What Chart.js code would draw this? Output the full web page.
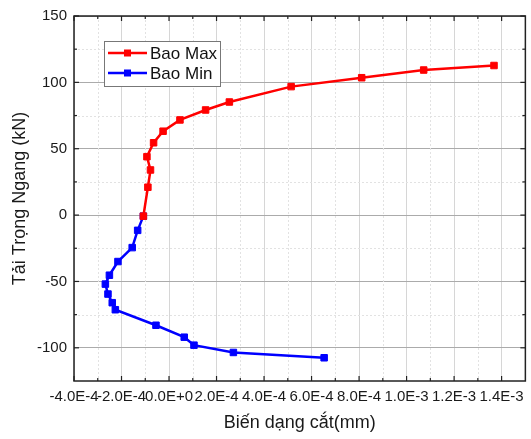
<!DOCTYPE html>
<html>
<head>
<meta charset="utf-8">
<script src="https://cdn.jsdelivr.net/npm/chart.js@4.4.1/dist/chart.umd.min.js"></script>
<style>
  html, body { margin: 0; padding: 0; background: #fff; }
  #wrap { width: 531px; height: 439px; }
</style>
</head>
<body>
<div id="wrap"><canvas id="chart" width="531" height="439"></canvas></div>
<script>
// ===== 数据=====
const seriesLabels = ['Bao Max', 'Bao Min'];
const seriesColors = ['#ff0000', '#0000ff'];

const maxX = [-1.08e-4, -8.9e-5, -7.8e-5, -9.3e-5, -6.5e-5, -2.5e-5, 4.6e-5, 1.54e-4, 2.54e-4, 5.14e-4, 8.11e-4, 1.072e-3, 1.368e-3];
const maxY = [-0.8, 21, 34, 44, 54.5, 63.2, 71.7, 79.2, 85.2, 96.8, 103.5, 109.3, 112.7];

const minX = [-1.08e-4, -1.32e-4, -1.55e-4, -2.15e-4, -2.51e-4, -2.68e-4, -2.57e-4, -2.39e-4, -2.26e-4, -5.5e-5, 6.4e-5, 1.05e-4, 2.71e-4, 6.53e-4];
const minY = [-0.8, -11.5, -24.5, -35, -45.3, -52, -59.5, -66, -71.3, -83, -92, -98, -103.5, -107.5];

const xTicks = [-4e-4, -2e-4, 0, 2e-4, 4e-4, 6e-4, 8e-4, 1e-3, 1.2e-3, 1.4e-3];
const xMinorTicks = [-3e-4, -1e-4, 1e-4, 3e-4, 5e-4, 7e-4, 9e-4, 1.1e-3, 1.3e-3];
const yTicks = [-100, -50, 0, 50, 100, 150];
const yMinorTicks = [-75, -25, 25, 75, 125];

const xRange = [-4e-4, 1.5e-3];
const yRange = [-125, 150];

const FONT = '"Liberation Sans", Arial, sans-serif';

const toPoints = (xs, ys) => xs.map((x, i) => ({ x, y: ys[i] }));

// 边框、内向刻度、次网格线与图内图例
const framePlugin = {
    id: 'frame',
    beforeDatasetsDraw(chart) {
        const { ctx, chartArea: a, scales } = chart;
        ctx.save();
        ctx.strokeStyle = '#e2e2e2';
        ctx.lineWidth = 1;
        ctx.setLineDash([2, 2]);
        xMinorTicks.forEach(v => {
            const px = Math.round(scales.x.getPixelForValue(v)) + 0.5;
            ctx.beginPath(); ctx.moveTo(px, a.top); ctx.lineTo(px, a.bottom); ctx.stroke();
        });
        yMinorTicks.forEach(v => {
            const py = Math.round(scales.y.getPixelForValue(v)) + 0.5;
            ctx.beginPath(); ctx.moveTo(a.left, py); ctx.lineTo(a.right, py); ctx.stroke();
        });
        ctx.restore();
    },
    afterDatasetsDraw(chart) {
        const { ctx, chartArea: a, scales } = chart;
        ctx.save();
        ctx.strokeStyle = '#222';
        ctx.lineWidth = 1.5;
        ctx.strokeRect(a.left, a.top, a.right - a.left, a.bottom - a.top);

        const tick = (x1, y1, x2, y2) => { ctx.beginPath(); ctx.moveTo(x1, y1); ctx.lineTo(x2, y2); ctx.stroke(); };
        ctx.lineWidth = 1.2;
        [[xTicks, 5], [xMinorTicks, 3]].forEach(([vals, len]) => vals.forEach(v => {
            const px = scales.x.getPixelForValue(v);
            tick(px, a.bottom, px, a.bottom - len);
            tick(px, a.top, px, a.top + len);
        }));
        [[yTicks, 5], [yMinorTicks, 3]].forEach(([vals, len]) => vals.forEach(v => {
            const py = scales.y.getPixelForValue(v);
            tick(a.left, py, a.left + len, py);
            tick(a.right, py, a.right - len, py);
        }));

        // 图例
        const lx = 104, ly = 41, lw = 116, lh = 45;
        ctx.fillStyle = '#fff';
        ctx.fillRect(lx, ly, lw, lh);
        ctx.strokeStyle = '#777';
        ctx.lineWidth = 1;
        ctx.strokeRect(lx + 0.5, ly + 0.5, lw, lh);
        ctx.font = '17px ' + FONT;
        ctx.textBaseline = 'middle';
        seriesLabels.forEach((label, i) => {
            const y = ly + 12 + i * 20;
            ctx.strokeStyle = seriesColors[i];
            ctx.fillStyle = seriesColors[i];
            ctx.lineWidth = 2.5;
            tick(lx + 4, y, lx + 43, y);
            ctx.fillRect(lx + 20, y - 3.5, 7, 7);
            ctx.fillStyle = '#111';
            ctx.fillText(label, lx + 46, y + 1);
        });
        ctx.restore();
    }
};

new Chart(document.getElementById('chart').getContext('2d'), {
    type: 'scatter',
    data: {
        datasets: [
            { label: seriesLabels[0], data: toPoints(maxX, maxY) },
            { label: seriesLabels[1], data: toPoints(minX, minY) }
        ].map((d, i) => ({
            ...d,
            showLine: true,
            borderColor: seriesColors[i],
            backgroundColor: seriesColors[i],
            borderWidth: 2.5,
            pointStyle: 'rect',
            pointRadius: 4.6,
            pointBorderWidth: 1,
            tension: 0
        }))
    },
    options: {
        responsive: false,
        animation: false,
        devicePixelRatio: 1,
        layout: { padding: { left: 0, right: 1, top: 15, bottom: 0 } },
        plugins: { legend: { display: false }, tooltip: { enabled: false } },
        scales: {
            x: {
                type: 'linear',
                min: xRange[0],
                max: xRange[1],
                afterBuildTicks: s => { s.ticks = xTicks.map(v => ({ value: v })); },
                afterFit: s => { s.height = 58; },
                ticks: {
                    autoSkip: false,
                    maxRotation: 0,
                    padding: 7,
                    color: '#1a1a1a',
                    font: { family: FONT, size: 15 },
                    callback: v => Number(v).toExponential(1).toUpperCase()
                },
                grid: { color: '#d6d6d6', lineWidth: 1, drawTicks: false },
                border: { display: false },
                title: {
                    display: true,
                    text: 'Biến dạng cắt(mm)',
                    color: '#1a1a1a',
                    font: { family: FONT, size: 18 },
                    padding: { top: 0, bottom: 5 }
                }
            },
            y: {
                type: 'linear',
                min: yRange[0],
                max: yRange[1],
                afterBuildTicks: s => { s.ticks = yTicks.map(v => ({ value: v })); },
                afterFit: s => { s.width = 74; },
                ticks: {
                    padding: 7,
                    color: '#1a1a1a',
                    font: { family: FONT, size: 15 }
                },
                grid: { color: '#ababab', lineWidth: 1, drawTicks: false },
                border: { display: false },
                title: {
                    display: true,
                    text: 'Tải Trọng Ngang (kN)',
                    color: '#1a1a1a',
                    font: { family: FONT, size: 18 },
                    padding: { top: 9, bottom: 0 }
                }
            }
        }
    },
    plugins: [framePlugin]
});
</script>
</body>
</html>
